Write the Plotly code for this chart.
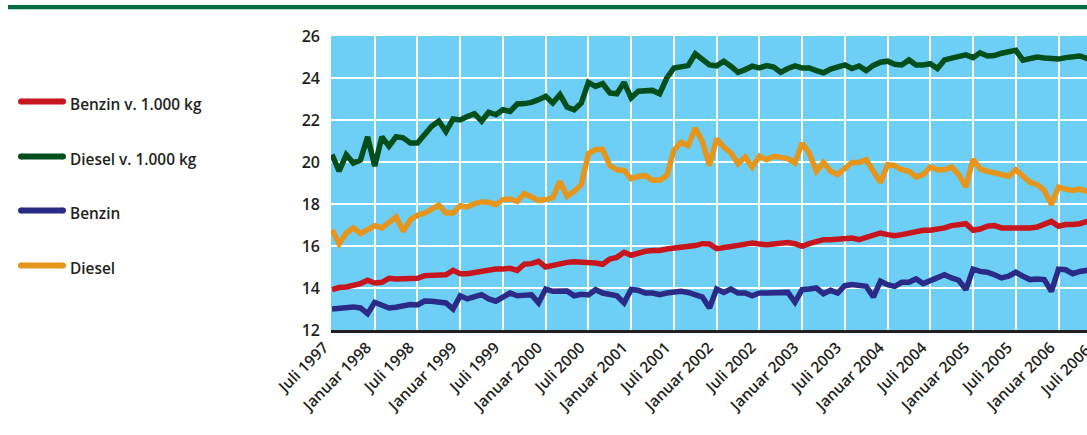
import plotly.graph_objects as go

# ---------------- data (monthly, Juli 1997 ... Juli 2006) ----------------
benzin_1000kg = [13.92, 14.02, 14.05, 14.11, 14.21, 14.37, 14.24, 14.27, 14.46, 14.43, 14.43, 14.43, 14.46, 14.59, 14.62, 14.59, 14.63, 14.84, 14.68, 14.68, 14.75, 14.81,
                 14.84, 14.90, 14.90, 14.94, 14.84, 15.13, 15.16, 15.27, 15.00, 15.08, 15.16, 15.22, 15.25, 15.25, 15.22, 15.19, 15.13, 15.38, 15.46, 15.70,
                 15.56, 15.67, 15.75, 15.79, 15.79, 15.86, 15.90, 15.90, 15.95, 16.02, 16.11, 16.10, 15.87, 15.95, 15.98, 16.03, 16.10, 16.14, 16.10, 16.06, 16.10, 16.15,
                 16.17, 16.11, 15.98, 16.11, 16.22, 16.30, 16.30, 16.33, 16.41, 16.38, 16.30, 16.43, 16.54, 16.62, 16.54, 16.49, 16.54, 16.62, 16.65, 16.75, 16.75,
                 16.78, 16.86, 16.97, 17.02, 17.06, 16.75, 16.81, 16.94, 16.97, 16.86, 16.86, 16.86, 16.81, 16.86, 16.90, 17.02, 17.17, 16.94, 17.02, 17.02, 17.06, 17.17, 17.15, 17.20]

diesel_1000kg = [20.35, 19.56, 20.35, 19.95, 20.10, 21.20, 19.80, 21.20, 20.75, 21.20, 21.15, 20.90, 20.90, 21.30, 21.70, 21.95, 21.45, 22.05, 22.00, 22.17, 22.30, 21.95,
                 22.37, 22.25, 22.49, 22.41, 22.76, 22.78, 22.84, 22.97, 23.13, 22.81, 23.21, 22.62, 22.49, 22.81, 23.79, 23.60, 23.73, 23.29, 23.25, 23.79,
                 23.05, 23.37, 23.41, 23.41, 23.25, 24.00, 24.48, 24.56, 24.59, 25.15, 24.85, 24.62, 24.58, 24.80, 24.56, 24.27, 24.40, 24.56, 24.48, 24.59, 24.52, 24.27,
                 24.45, 24.58, 24.48, 24.48, 24.35, 24.25, 24.42, 24.50, 24.62, 24.45, 24.57, 24.35, 24.60, 24.75, 24.80, 24.65, 24.62, 24.86, 24.62, 24.62, 24.68,
                 24.45, 24.86, 24.95, 25.02, 25.10, 24.97, 25.20, 25.05, 25.07, 25.18, 25.28, 25.32, 24.85, 24.90, 25.00, 24.95, 24.93, 24.90, 24.97, 25.00, 25.05, 24.93, 24.95, 24.95]

benzin = [13.00, 13.05, 13.06, 13.10, 13.05, 12.78, 13.32, 13.21, 13.05, 13.08, 13.13, 13.21, 13.19, 13.38, 13.37, 13.32, 13.29, 13.00, 13.63, 13.48, 13.57, 13.68,
          13.48, 13.37, 13.57, 13.76, 13.63, 13.63, 13.68, 13.29, 13.95, 13.84, 13.83, 13.86, 13.63, 13.70, 13.67, 13.92, 13.76, 13.67, 13.63, 13.29,
          13.93, 13.89, 13.76, 13.76, 13.68, 13.76, 13.79, 13.84, 13.79, 13.68, 13.57, 13.05, 13.95, 13.79, 13.95, 13.76, 13.76, 13.63, 13.76, 13.76, 13.76, 13.80,
          13.79, 13.32, 13.92, 13.95, 14.00, 13.73, 13.89, 13.76, 14.11, 14.16, 14.11, 14.08, 13.57, 14.32, 14.16, 14.08, 14.27, 14.27, 14.43, 14.21, 14.35,
          14.48, 14.63, 14.48, 14.37, 13.92, 14.90, 14.79, 14.75, 14.63, 14.48, 14.56, 14.75, 14.56, 14.40, 14.43, 14.40, 13.84, 14.90, 14.87, 14.68, 14.79, 14.84, 14.78, 14.82]

diesel = [16.78, 16.11, 16.62, 16.86, 16.59, 16.78, 16.97, 16.86, 17.13, 17.38, 16.70, 17.25, 17.46, 17.57, 17.76, 17.94, 17.57, 17.57, 17.92, 17.86, 18.02, 18.10,
          18.08, 17.97, 18.21, 18.24, 18.13, 18.49, 18.33, 18.17, 18.21, 18.30, 19.08, 18.37, 18.60, 18.92, 20.40, 20.59, 20.59, 19.83, 19.63, 19.60,
          19.20, 19.32, 19.35, 19.13, 19.13, 19.35, 20.56, 20.94, 20.78, 21.62, 20.98, 19.83, 21.10, 20.71, 20.43, 19.92, 20.24, 19.76, 20.27, 20.11, 20.27, 20.20,
          20.16, 19.95, 20.90, 20.43, 19.56, 19.98, 19.56, 19.40, 19.67, 19.98, 19.98, 20.11, 19.56, 19.03, 19.87, 19.83, 19.63, 19.56, 19.29, 19.40, 19.76,
          19.63, 19.63, 19.76, 19.40, 18.81, 20.14, 19.67, 19.56, 19.48, 19.44, 19.32, 19.63, 19.32, 19.03, 18.92, 18.65, 17.97, 18.81, 18.71, 18.65, 18.71, 18.60, 18.65, 18.68]

series_names = ["Benzin v. 1.000 kg", "Diesel v. 1.000 kg", "Benzin", "Diesel"]
series_colors = ["#c8161e", "#024f1c", "#2b2a86", "#e6961c"]
series_values = [benzin_1000kg, diesel_1000kg, benzin, diesel]

tick_labels = ["Juli 1997", "Januar 1998", "Juli 1998", "Januar 1999", "Juli 1999", "Januar 2000",
               "Juli 2000", "Januar 2001", "Juli 2001", "Januar 2002", "Juli 2002", "Januar 2003",
               "Juli 2003", "Januar 2004", "Juli 2004", "Januar 2005", "Juli 2005", "Januar 2006", "Juli 2006"]
tick_step = 6  # months between labels

months = list(range(len(benzin)))
tick_vals = [i * tick_step for i in range(len(tick_labels))]

FONT = "Open Sans"
TXT = "#231f20"

FIG_W, FIG_H = 1087, 435
L_PX, T_PX, B_PX = 331, 36, 330          # plot area edges in pixels
plot_w = FIG_W - L_PX
plot_h = B_PX - T_PX


def px_x(px):
    return (px - L_PX) / plot_w


def px_y(py):
    return (B_PX - py) / plot_h


x_min = -0.14
x_max = 106.0

fig = go.Figure()
# draw order: green, orange, red, navy
for idx in [1, 3, 0, 2]:
    fig.add_trace(go.Scatter(x=months, y=series_values[idx], mode="lines", name=series_names[idx],
                             line=dict(color=series_colors[idx], width=5.5, shape="linear"),
                             hoverinfo="skip", showlegend=False))

shapes = []
annotations = []
# top green rule
shapes.append(dict(type="rect", xref="paper", yref="paper", x0=px_x(8), x1=px_x(1100),
                   y0=px_y(9.3), y1=px_y(5), fillcolor="#006b3f", line=dict(width=0), layer="above"))

# custom legend
legend_y = [101.5, 156.5, 210.5, 265.5]
for name, col, ly in zip(series_names, series_colors, legend_y):
    shapes.append(dict(type="line", xref="paper", yref="paper", x0=px_x(21), x1=px_x(63),
                       y0=px_y(ly), y1=px_y(ly), line=dict(color=col, width=6)))
    for cx in (21, 63):
        shapes.append(dict(type="circle", xref="paper", yref="paper", x0=px_x(cx - 3), x1=px_x(cx + 3),
                           y0=px_y(ly + 3), y1=px_y(ly - 3), fillcolor=col, line=dict(width=0)))
    annotations.append(dict(xref="paper", yref="paper", x=px_x(68), y=px_y(ly + 2.5), text=name,
                            showarrow=False, xanchor="left", yanchor="middle",
                            font=dict(family=FONT, size=15.4, color=TXT, weight=600)))

# last tick label (Juli 2006) lies beyond the clipped right edge of the plot
last_px = L_PX + (tick_vals[-1] - x_min) / (x_max - x_min) * plot_w
annotations.append(dict(xref="paper", yref="paper", x=px_x(last_px - 3), y=px_y(B_PX + 6),
                        text=tick_labels[-1], textangle=-45, showarrow=False,
                        xanchor="right", yanchor="top",
                        font=dict(family=FONT, size=15.5, color=TXT, weight=600)))

fig.update_layout(
    width=FIG_W, height=FIG_H,
    margin=dict(l=L_PX, r=0, t=T_PX, b=FIG_H - B_PX, pad=0),
    paper_bgcolor="white", plot_bgcolor="#6dcff6",
    showlegend=False,
    shapes=shapes, annotations=annotations,
    xaxis=dict(range=[x_min, x_max], tickmode="array", tickvals=tick_vals[:-1], ticktext=tick_labels[:-1],
               tickangle=-45, showgrid=True, gridcolor="white", gridwidth=2,
               showline=True, linecolor=TXT, linewidth=2.5, zeroline=False, ticks="",
               ticklabelshift=-8,
               tickfont=dict(family=FONT, size=15.5, color=TXT, weight=600)),
    yaxis=dict(range=[12, 26], tickmode="linear", tick0=12, dtick=2, showgrid=True, gridcolor="white",
               gridwidth=2, showline=False, zeroline=False, ticks="", ticklabelstandoff=10,
               tickfont=dict(family=FONT, size=16, color=TXT, weight=600)),
)

# remove the default 8px page margin so the figure sits at the window's top-left corner
fig.write_html("out.html",
               config={"displayModeBar": False, "staticPlot": True},
               post_script="document.body.style.margin='0';document.body.style.overflow='hidden';")
